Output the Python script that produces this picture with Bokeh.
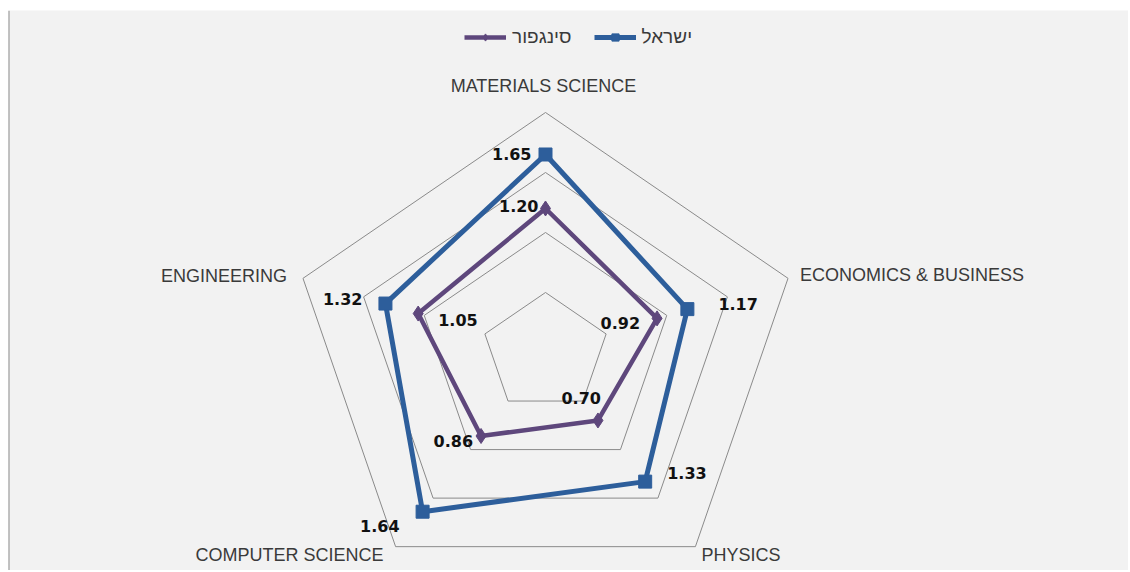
import math
from bokeh.plotting import figure
from bokeh.models import ColumnDataSource, Range1d, Legend, LegendItem, Span
from bokeh.core.properties import value
from bokeh.embed import file_html
from bokeh.resources import INLINE

# ---- data ----
categories = ["MATERIALS SCIENCE", "ECONOMICS & BUSINESS", "PHYSICS", "COMPUTER SCIENCE", "ENGINEERING"]
israel = [1.65, 1.17, 1.33, 1.64, 1.32]
singapore = [1.20, 0.92, 0.70, 0.86, 1.05]
series_names = ["ישראל", "סינגפור"]
ring_levels = [0.5, 1.0, 1.5, 2.0]

# ---- label placement (screen px offsets) ----
il_lab_align = ["right", "left", "left", "right", "right"]
il_lab_dx = [-14, 31, 22, -23, -23]
il_lab_dy = [0, -5, -9, 14, -5]
sg_lab_align = ["right", "right", "right", "right", "left"]
sg_lab_dx = [-7, -17, 3, -8, 20]
sg_lab_dy = [-2, 5, -22, 5, 6]
cat_align = ["center", "left", "left", "right", "right"]
cat_dx = [-2, 12, 6, -12, -16]
cat_dy = [-26, -3, 8, 8, -2]

n = len(categories)
angles = [2 * math.pi * i / n for i in range(n)]


def to_xy(vals):
    xs = [v * math.sin(a) for v, a in zip(vals, angles)]
    ys = [v * math.cos(a) for v, a in zip(vals, angles)]
    return xs, ys


W, H = 1128, 570
p = figure(width=W, height=H, output_backend="svg", toolbar_location=None,
           x_range=Range1d(-4.2118, 4.5725), y_range=Range1d(-1.8167, 2.85),
           min_border_left=8, min_border_top=10, min_border_right=0, min_border_bottom=0,
           background_fill_color="#f2f2f2", border_fill_color="#ffffff")
p.axis.visible = False
p.grid.visible = False
p.outline_line_color = None
p.add_layout(Span(location=-4.2118, dimension="height", line_color="#8c8c8c", line_width=2))

# grid rings
for lv in ring_levels:
    gx, gy = to_xy([lv] * n)
    p.line(gx + gx[:1], gy + gy[:1], line_color="#8a8a8a", line_width=1)

BLUE = "#2d5e9b"
PURPLE = "#5e477c"

sx, sy = to_xy(singapore)
ix, iy = to_xy(israel)

sg_line = p.line(sx + sx[:1], sy + sy[:1], line_color=PURPLE, line_width=4.5)
sg_mark = p.scatter(sx, sy, marker="diamond", size=15, fill_color=PURPLE, line_color=PURPLE)
il_line = p.line(ix + ix[:1], iy + iy[:1], line_color=BLUE, line_width=5)
il_mark = p.scatter(ix, iy, marker="square", size=13, fill_color=BLUE, line_color=BLUE)

lab_font = value("DejaVu Sans")
il_src = ColumnDataSource(dict(x=ix, y=iy, t=[f"{v:.2f}" for v in israel],
                               a=il_lab_align, dx=il_lab_dx, dy=il_lab_dy))
sg_src = ColumnDataSource(dict(x=sx, y=sy, t=[f"{v:.2f}" for v in singapore],
                               a=sg_lab_align, dx=sg_lab_dx, dy=sg_lab_dy))
for src in (il_src, sg_src):
    p.text(x="x", y="y", text="t", source=src, text_align="a", text_baseline="middle",
           x_offset="dx", y_offset="dy", text_font=lab_font, text_font_style="bold",
           text_font_size="16px", text_color="#111111")

cx, cy = to_xy([ring_levels[-1]] * n)
cat_src = ColumnDataSource(dict(x=cx, y=cy, t=categories, a=cat_align, dx=cat_dx, dy=cat_dy))
p.text(x="x", y="y", text="t", source=cat_src, text_align="a", text_baseline="middle",
       x_offset="dx", y_offset="dy", text_font=value("Liberation Sans"),
       text_font_size="18px", text_color="#3a3a3a")

legend = Legend(items=[LegendItem(label=series_names[1], renderers=[sg_line, sg_mark]),
                       LegendItem(label=series_names[0], renderers=[il_line, il_mark])],
                orientation="horizontal", location=(456, 522),
                glyph_width=42, glyph_height=18, label_standoff=6, spacing=22,
                padding=0, margin=0, border_line_color=None, background_fill_alpha=0,
                label_text_font="Liberation Sans", label_text_font_size="19px",
                label_text_color="#3a3a3a")
p.add_layout(legend, "center")

open("out.html", "w").write(file_html(p, INLINE))
